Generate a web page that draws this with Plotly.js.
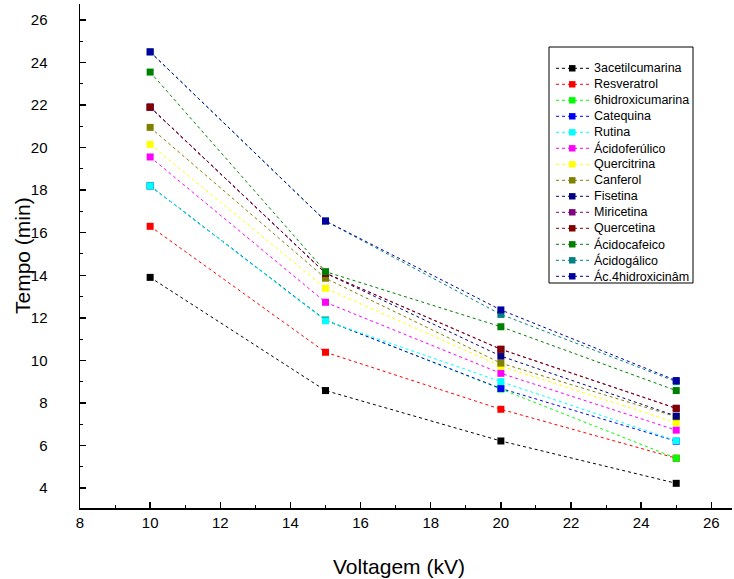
<!DOCTYPE html>
<html>
<head>
<meta charset="utf-8">
<script src="https://cdn.plot.ly/plotly-3.0.1.min.js"></script>
<style>html,body{margin:0;padding:0;background:#fff;}#chart{width:734px;height:579px;}</style>
</head>
<body>
<div id="chart"></div>
<script>
// ---- data ----
const voltages = [10, 15, 20, 25];
const seriesNames = ['3acetilcumarina','Resveratrol','6hidroxicumarina','Catequina','Rutina','Ácidoferúlico','Quercitrina','Canferol','Fisetina','Miricetina','Quercetina','Ácidocafeico','Ácidogálico','Ác.4hidroxicinâm'];
const seriesColors = ['#000000','#FF0000','#00FF00','#0000FF','#00FFFF','#FF00FF','#FFFF00','#808000','#000080','#800080','#800000','#008000','#008080','#0000A0'];
const acetilcumarina3   = [13.90, 8.58, 6.21, 4.22];
const resveratrol       = [16.30, 10.38, 7.70, 5.40];
const hidroxicumarina6  = [18.20, 11.90, 8.65, 5.40];
const catequina         = [18.20, 11.88, 8.68, 6.20];
const rutina            = [18.20, 11.86, 9.00, 6.22];
const acidoferulico     = [19.56, 12.73, 9.39, 6.72];
const quercitrina       = [20.15, 13.39, 9.73, 7.07];
const canferol          = [20.95, 13.86, 9.87, 7.35];
const fisetina          = [21.90, 14.10, 10.20, 7.38];
const miricetina        = [21.90, 14.10, 10.52, 7.75];
const quercetina        = [21.90, 14.10, 10.52, 7.74];
const acidocafeico      = [23.55, 14.17, 11.58, 8.58];
const acidogalico       = [24.50, 16.55, 12.16, 9.00];
const ac4hidroxicinam   = [24.50, 16.55, 12.37, 9.05];
const seriesValues = [acetilcumarina3, resveratrol, hidroxicumarina6, catequina, rutina, acidoferulico, quercitrina, canferol, fisetina, miricetina, quercetina, acidocafeico, acidogalico, ac4hidroxicinam];
const xTicks = [8,10,12,14,16,18,20,22,24,26];
const yTicks = [4,6,8,10,12,14,16,18,20,22,24,26];

// ---- geometry (pixels) ----
const W = 734, H = 579;
const L = 80, R = 732, T = 4, B = 508;
const px = v => (v - L) / (R - L);
const py = v => (B - v) / (B - T);
const FONT = 'Arial, "Liberation Sans", sans-serif';

const traces = seriesNames.map((name, i) => ({
  type: 'scatter', mode: 'lines+markers', name: name,
  x: voltages, y: seriesValues[i],
  line: {color: seriesColors[i], width: 1, dash: '3px,3px'},
  marker: {symbol: 'square', size: 7, color: seriesColors[i], line: {width: 0}},
  showlegend: false, cliponaxis: false
}));

// manual legend (Origin-style compact spacing)
const shapes = [{type:'rect', xref:'paper', yref:'paper', x0:px(549), x1:px(693), y0:py(47), y1:py(283), line:{color:'#000', width:1}, fillcolor:'rgba(0,0,0,0)'}];
const annotations = [];
seriesNames.forEach((name, i) => {
  const yy = 68.3 + 16 * i;
  shapes.push({type:'line', xref:'paper', yref:'paper', x0:px(556), x1:px(589), y0:py(yy), y1:py(yy), line:{color:seriesColors[i], width:1, dash:'3px,3px'}});
  shapes.push({type:'rect', xref:'paper', yref:'paper', x0:px(569), x1:px(575.5), y0:py(yy-3.2), y1:py(yy+3.2), line:{width:0}, fillcolor:seriesColors[i]});
  annotations.push({xref:'paper', yref:'paper', x:px(592), y:py(yy), xanchor:'left', yanchor:'middle', text:name, showarrow:false, font:{family:FONT, size:12.5, color:'#000'}});
});
annotations.push({xref:'paper', yref:'paper', x:px(399), y:py(566), xanchor:'center', yanchor:'middle', text:'Voltagem (kV)', showarrow:false, font:{family:FONT, size:21, color:'#000'}});
annotations.push({xref:'paper', yref:'paper', x:px(22), y:py(256), xanchor:'center', yanchor:'middle', textangle:-90, text:'Tempo (min)', showarrow:false, font:{family:FONT, size:21, color:'#000'}});

const layout = {
  width: W, height: H,
  margin: {l: L, r: W - R, t: T, b: H - B, pad: 0},
  paper_bgcolor: '#fff', plot_bgcolor: '#fff',
  font: {family: FONT, color: '#000'},
  showlegend: false,
  xaxis: {
    range: [8, 26.59], tickvals: xTicks, ticktext: xTicks.map(String),
    showgrid: false, zeroline: false, showline: true, linecolor: '#000', linewidth: 1.5,
    ticks: 'inside', ticklen: 6, tickwidth: 1.5, tickcolor: '#000',
    minor: {dtick: 1, ticks: 'inside', ticklen: 3, tickwidth: 1, tickcolor: '#000'},
    tickfont: {family: FONT, size: 15, color: '#000'}
  },
  yaxis: {
    range: [3.06, 26.75], tickvals: yTicks, ticktext: yTicks.map(String),
    showgrid: false, zeroline: false, showline: true, linecolor: '#000', linewidth: 1.5,
    ticks: 'inside', ticklen: 6, tickwidth: 1.5, tickcolor: '#000',
    minor: {dtick: 1, ticks: 'inside', ticklen: 3, tickwidth: 1, tickcolor: '#000'},
    tickfont: {family: FONT, size: 15, color: '#000'},
    ticklabelstandoff: 28
  },
  shapes: shapes,
  annotations: annotations
};

Plotly.newPlot('chart', traces, layout, {displayModeBar: false, staticPlot: true});
</script>
</body>
</html>
